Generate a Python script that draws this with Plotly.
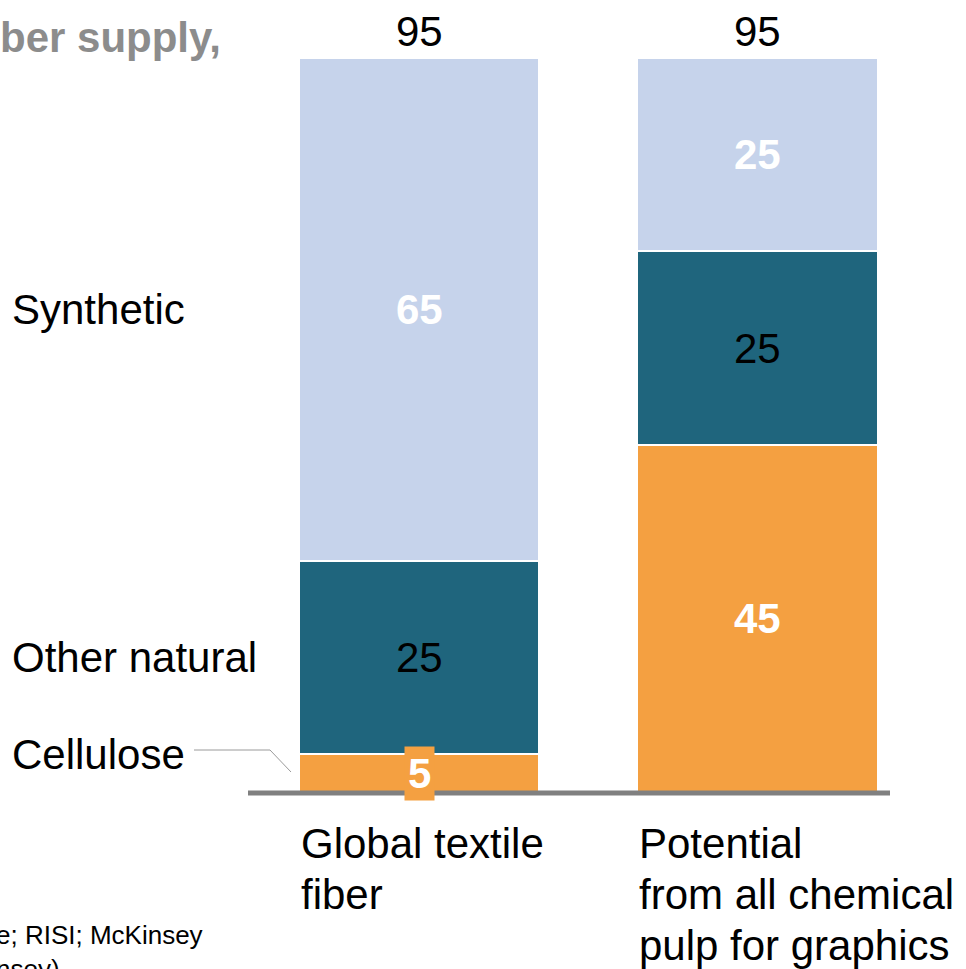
import plotly.graph_objects as go

# Fiber supply by type, two stacked bars
categories = [["Global textile", "fiber"], ["Potential", "from all chemical", "pulp for graphics"]]
series_names = ["Cellulose", "Other natural", "Synthetic"]
cellulose = [5, 45]
other_natural = [25, 25]
synthetic = [65, 25]
totals = [95, 95]

colors = {"Cellulose": "#F4A041", "Other natural": "#1F657D", "Synthetic": "#C6D3EB"}
FONT = "Liberation Sans, Arial, sans-serif"
FS = 42
W, H = 966, 969
bar_width = 0.71
x_pos = [0, 1]

fig = go.Figure()
series = [cellulose, other_natural, synthetic]
for name, vals in zip(series_names, series):
    fig.add_trace(go.Bar(
        x=x_pos, y=vals, name=name, width=bar_width,
        marker=dict(color=colors[name], line=dict(color="white", width=2)),
        hoverinfo="skip", showlegend=False,
    ))

annotations = []

# segment value labels
label_style = {
    "Cellulose": dict(color="white", weight="bold"),
    "Other natural": dict(color="black", weight="normal"),
    "Synthetic": dict(color="white", weight="bold"),
}
base = [0, 0]
for name, vals in zip(series_names, series):
    for i, v in enumerate(vals):
        mid = base[i] + v / 2
        st = label_style[name]
        ann = dict(x=x_pos[i], y=mid, xref="x", yref="y", text=str(v), showarrow=False,
                   font=dict(family=FONT, size=FS, color=st["color"], weight=st["weight"]))
        if name == "Cellulose" and v < 10:
            ann.update(bgcolor=colors[name], borderpad=3)
        annotations.append(ann)
        base[i] += v

# totals above bars
for i, t in enumerate(totals):
    annotations.append(dict(x=x_pos[i], y=t, xref="x", yref="y", text=str(t), showarrow=False,
                            yanchor="bottom", yshift=1,
                            font=dict(family=FONT, size=FS, color="black")))

# category labels under bars, left aligned with bar edge, one annotation per line
LINE_GAP = 51
for i, lines in enumerate(categories):
    for k, line in enumerate(lines):
        annotations.append(dict(x=x_pos[i] - bar_width / 2, y=0, xref="x", yref="y", text=line,
                                showarrow=False, xanchor="left", yanchor="middle",
                                yshift=-50 - LINE_GAP * k,
                                font=dict(family=FONT, size=FS, color="black")))

# series labels on the left, aligned with first bar's segments
left_x = 10 / W
annotations.append(dict(x=left_x, y=cellulose[0] + other_natural[0] + synthetic[0] / 2,
                        xref="paper", yref="y", text="Synthetic", showarrow=False,
                        xanchor="left", font=dict(family=FONT, size=FS, color="black")))
annotations.append(dict(x=left_x, y=cellulose[0] + other_natural[0] / 2,
                        xref="paper", yref="y", text="Other natural", showarrow=False,
                        xanchor="left", font=dict(family=FONT, size=FS, color="black")))
annotations.append(dict(x=left_x, y=cellulose[0], xref="paper", yref="y", text="Cellulose",
                        showarrow=False, xanchor="left",
                        font=dict(family=FONT, size=FS, color="black")))

# title and source (partially outside the canvas)
annotations.append(dict(x=223 / W, y=1 - 38 / H, xref="paper", yref="paper",
                        text="ber supply,", showarrow=False, xanchor="right", yanchor="middle",
                        font=dict(family=FONT, size=FS, color="#8C8C8C", weight="bold")))
annotations.append(dict(x=-6 / W, y=1 - 918 / H, xref="paper", yref="paper",
                        text="e; RISI; McKinsey<br>nsey)", showarrow=False, xanchor="left",
                        yanchor="top", align="left",
                        font=dict(family=FONT, size=26, color="black")))

shapes = [
    # baseline
    dict(type="line", xref="paper", yref="y", x0=248 / W, x1=890 / W, y0=0, y1=0,
         line=dict(color="#808080", width=5), layer="above"),
    # leader for Cellulose
    dict(type="path", xref="paper", yref="paper",
         path=f"M {194 / W} {1 - 750 / H} L {270 / W} {1 - 750 / H} L {291 / W} {1 - 772 / H}",
         line=dict(color="#9A9A9A", width=1)),
]

px_per_unit = (793 - 58) / 95
y_min = -(H - 793) / px_per_unit
y_max = 95 + 58 / px_per_unit
px_per_x = 338.5
x_min = -419 / px_per_x
x_max = (W - 419) / px_per_x

fig.update_layout(
    width=W, height=H, margin=dict(l=0, r=0, t=0, b=0),
    barmode="stack", bargap=0,
    plot_bgcolor="white", paper_bgcolor="white",
    xaxis=dict(range=[x_min, x_max], visible=False, fixedrange=True),
    yaxis=dict(range=[y_min, y_max], visible=False, fixedrange=True),
    annotations=annotations, shapes=shapes,
)

fig.write_html("out.html")
